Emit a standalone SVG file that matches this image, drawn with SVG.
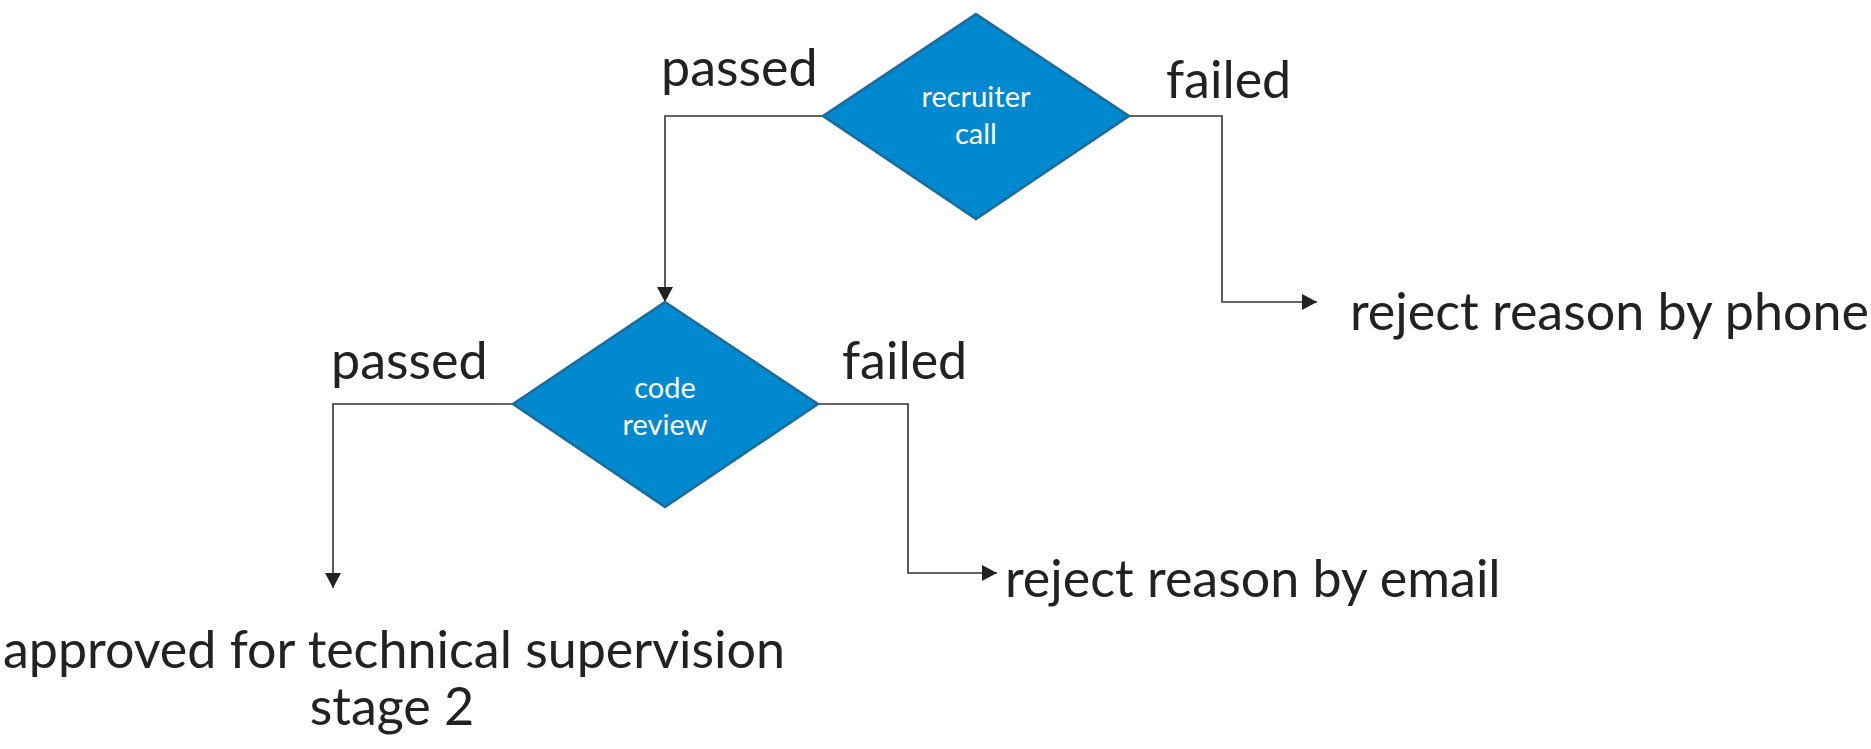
<svg xmlns="http://www.w3.org/2000/svg" width="1871" height="749" viewBox="0 0 1871 749">
<defs>
<style>
.dia{fill:#0189D0;stroke:#1B6A99;stroke-width:2.5}
.wt{font-family:Lato,"Open Sans",sans-serif;font-size:29px;fill:#ffffff;text-anchor:middle}
.lb{font-family:Lato,"Open Sans",sans-serif;font-size:52px;fill:#222222}
.cn{fill:none;stroke:#333333;stroke-width:1.6}
</style>
<marker id="ah" markerUnits="userSpaceOnUse" markerWidth="16" markerHeight="16" viewBox="0 0 16 16" refX="15" refY="8" orient="auto">
<path d="M0,0 L15,8 L0,16 Z" fill="#222222"/>
</marker>
</defs>
<rect width="1871" height="749" fill="#ffffff"/>
<g id="connectors">
<path class="cn" d="M823,116 H665 V302" marker-end="url(#ah)"/>
<path class="cn" d="M1129,116 H1222 V302 H1317" marker-end="url(#ah)"/>
<path class="cn" d="M513,404 H333 V588" marker-end="url(#ah)"/>
<path class="cn" d="M818,404 H908 V573 H997" marker-end="url(#ah)"/>
</g>
<g id="recruiter-call">
<polygon class="dia" points="976,14 1129,116 976,219 823,116"/>
<text class="wt" x="976" y="107">recruiter</text>
<text class="wt" x="976" y="144">call</text>
</g>
<g id="code-review">
<polygon class="dia" points="665,302 818,404 665,507 513,404"/>
<text class="wt" x="665" y="398">code</text>
<text class="wt" x="665" y="435">review</text>
</g>
<g id="labels">
<text class="lb" x="661" y="86">passed</text>
<text class="lb" x="1166" y="98">failed</text>
<text class="lb" x="331" y="379">passed</text>
<text class="lb" x="842" y="379">failed</text>
</g>
<g id="reject-phone">
<text class="lb" x="1350" y="330">reject reason by phone</text>
</g>
<g id="reject-email">
<text class="lb" x="1005" y="597">reject reason by email</text>
</g>
<g id="approved">
<text class="lb" x="394" y="668" text-anchor="middle">approved for technical supervision</text>
<text class="lb" x="392" y="725" text-anchor="middle">stage 2</text>
</g>
</svg>
